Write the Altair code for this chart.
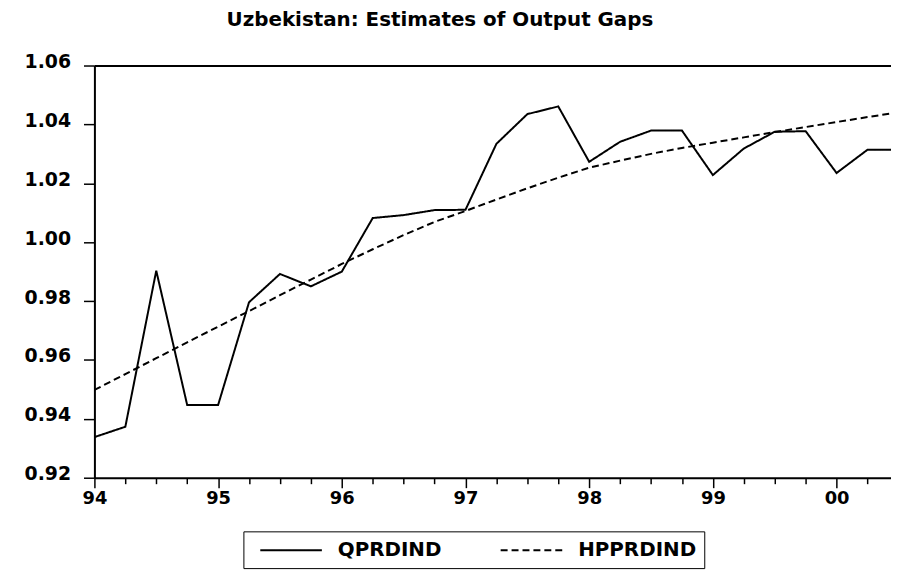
import altair as alt
import pandas as pd

quarters = [
    "1994Q1", "1994Q2", "1994Q3", "1994Q4",
    "1995Q1", "1995Q2", "1995Q3", "1995Q4",
    "1996Q1", "1996Q2", "1996Q3", "1996Q4",
    "1997Q1", "1997Q2", "1997Q3", "1997Q4",
    "1998Q1", "1998Q2", "1998Q3", "1998Q4",
    "1999Q1", "1999Q2", "1999Q3", "1999Q4",
    "2000Q1", "2000Q2", "2000Q3",
]
qprdind = [
    0.9338, 0.9373, 0.9903, 0.9447,
    0.9447, 0.9796, 0.9892, 0.9850,
    0.9900, 1.0082, 1.0092, 1.0109,
    1.0110, 1.0334, 1.0435, 1.0461,
    1.0273, 1.0341, 1.0379, 1.0379,
    1.0228, 1.0318, 1.0375, 1.0377,
    1.0235, 1.0314, 1.0314,
]
hpprdind = [
    0.9498, 0.9552, 0.9606, 0.9660,
    0.9713, 0.9766, 0.9820, 0.9873,
    0.9926, 0.9976, 1.0024, 1.0069,
    1.0106, 1.0145, 1.0183, 1.0219,
    1.0253, 1.0277, 1.0300, 1.0320,
    1.0338, 1.0356, 1.0374, 1.0391,
    1.0408, 1.0425, 1.0441,
]
series_names = ["QPRDIND", "HPPRDIND"]
year_labels = ["94", "95", "96", "97", "98", "99", "00"]
y_ticks = [0.92, 0.94, 0.96, 0.98, 1.00, 1.02, 1.04, 1.06]
title_text = "Uzbekistan: Estimates of Output Gaps"

rows = []
for i, q in enumerate(quarters):
    rows.append({"idx": i, "quarter": q, "series": series_names[0], "value": qprdind[i]})
    rows.append({"idx": i, "quarter": q, "series": series_names[1], "value": hpprdind[i]})
df = pd.DataFrame(rows)

FONT = "DejaVu Sans"
xscale = alt.Scale(domain=[0, 25.76], nice=False, zero=False)
yscale = alt.Scale(domain=[0.92, 1.06], nice=False, zero=False)

label_array = "[" + ",".join("'%s'" % s for s in year_labels) + "]"
label_expr = "datum.value % 4 === 0 ? " + label_array + "[datum.value / 4] : ''"

lines = alt.Chart(df).mark_line(clip=True, color="black", strokeWidth=2).encode(
    x=alt.X(
        "idx:Q",
        scale=xscale,
        axis=alt.Axis(
            values=list(range(0, 26)),
            labelExpr=label_expr,
            title=None,
            grid=False,
            domainColor="black",
            domainWidth=2,
            tickColor="black",
            tickWidth=1.5,
            tickSize={"condition": {"test": "datum.value % 4 === 0", "value": 10}, "value": 6},
            labelPadding=2,
            labelFont=FONT,
            labelFontWeight="bold",
            labelFontSize=18,
            labelColor="black",
            labelBaseline="top",
            labelFlush=False,
            labelOverlap=False,
        ),
    ),
    y=alt.Y(
        "value:Q",
        scale=yscale,
        axis=alt.Axis(
            values=y_ticks,
            format=".2f",
            title=None,
            grid=False,
            domainColor="black",
            domainWidth=2,
            tickColor="black",
            tickWidth=1.5,
            tickSize=11,
            labelPadding=13,
            labelOffset=-4,
            labelFont=FONT,
            labelFontWeight="bold",
            labelFontSize=19,
            labelColor="black",
            labelFlush=False,
        ),
    ),
    strokeDash=alt.StrokeDash(
        "series:N",
        scale=alt.Scale(domain=series_names, range=[[1, 0], [7, 4]]),
        legend=alt.Legend(
            orient="none",
            legendX=150,
            legendY=469,
            direction="horizontal",
            title=None,
            symbolType="M-3.1,0H3.1",
            symbolSize=400,
            symbolOffset=29,
            symbolStrokeWidth=2,
            symbolStrokeColor="black",
            labelFont=FONT,
            labelFontWeight="bold",
            labelFontSize=20,
            labelColor="black",
            labelOffset=36,
            columnPadding=50,
            strokeColor="black",
            padding=8,
        ),
    ),
)

top_frame = alt.Chart(df).mark_line(opacity=0).encode(
    x=alt.X(
        "idx:Q",
        scale=xscale,
        axis=alt.Axis(orient="top", labels=False, ticks=False, grid=False,
                      domainColor="black", domainWidth=2, title=None),
    ),
    y=alt.Y("value:Q", scale=yscale, axis=None),
)

chart = alt.layer(lines, top_frame).resolve_axis(x="independent", y="independent").properties(
    width=802,
    height=415,
    padding={"left": 87, "top": 56, "right": 0, "bottom": 92},
    autosize=alt.AutoSizeParams(type="none"),
    title=alt.TitleParams(
        title_text,
        anchor="start",
        frame="group",
        dx=133,
        offset=7,
        baseline="alphabetic",
        font=FONT,
        fontWeight="bold",
        fontSize=20,
        color="black",
    ),
).configure_view(stroke=None).configure(background="white")

chart.save("out.html", embed_options={"renderer": "svg", "actions": False})
